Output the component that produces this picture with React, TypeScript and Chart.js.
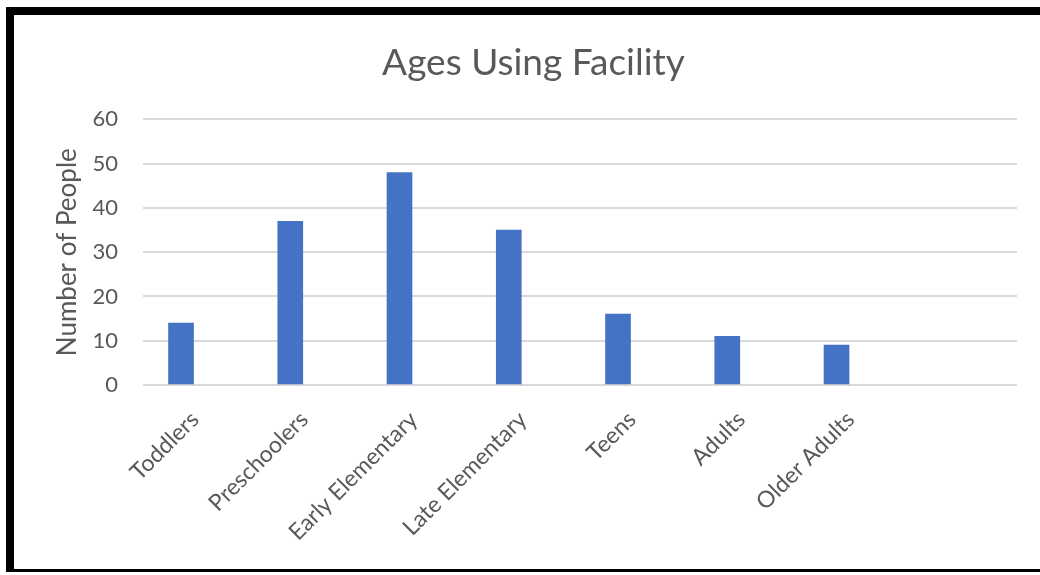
import React, { useEffect, useRef } from 'react';
import { Chart, registerables } from 'chart.js';

Chart.register(...registerables);

const categories = ['Toddlers', 'Preschoolers', 'Early Elementary', 'Late Elementary', 'Teens', 'Adults', 'Older Adults'];
const people = [14, 37, 48, 35, 16, 11, 9];
const yTickValues = [0, 10, 20, 30, 40, 50, 60];
const titleText = 'Ages Using Facility';
const yTitleText = 'Number of People';

const FONT = 'Lato, "Open Sans", "Noto Sans", sans-serif';
const TEXT = '#595959';

export default function App() {
  const ref = useRef<HTMLCanvasElement | null>(null);

  useEffect(() => {
    if (!ref.current) return;
    const chart = new Chart(ref.current, {
      type: 'bar',
      data: {
        datasets: [
          {
            label: yTitleText,
            data: people.map((v, i) => ({ x: i, y: v })),
            backgroundColor: '#4472C4',
            borderColor: '#4472C4',
            borderWidth: 0,
            barThickness: 25,
          },
        ],
      },
      options: {
        responsive: false,
        animation: false,
        layout: { padding: { left: 50, right: 23, top: 0, bottom: 0 } },
        plugins: {
          legend: { display: false },
          tooltip: { enabled: false },
          title: {
            display: true,
            text: titleText,
            color: TEXT,
            font: { family: FONT, size: 37, weight: 'normal' },
            padding: { top: 41, bottom: 34 },
          },
        },
        scales: {
          x: {
            type: 'linear',
            offset: false,
            min: -0.348,
            max: 7.652,
            grid: { display: false, drawTicks: false, offset: false },
            border: { display: false },
            afterBuildTicks: (s: any) => {
              s.ticks = categories.map((_, i) => ({ value: i }));
            },
            afterFit: (s: any) => {
              s.height = 190;
            },
            ticks: {
              autoSkip: false,
              minRotation: 45,
              maxRotation: 45,
              padding: 21,
              labelOffset: 14,
              color: TEXT,
              font: { family: FONT, size: 23 },
              callback: (v: any) => categories[v as number] ?? '',
            },
          },
          y: {
            min: 0,
            max: 60,
            afterBuildTicks: (s: any) => {
              s.ticks = yTickValues.map((v) => ({ value: v }));
            },
            afterFit: (s: any) => {
              s.width = 93;
            },
            grid: { color: '#d9d9d9', lineWidth: 2, drawTicks: false },
            border: { display: false },
            ticks: {
              padding: 25,
              color: TEXT,
              font: { family: FONT, size: 22 },
            },
            title: {
              display: true,
              text: yTitleText,
              color: TEXT,
              font: { family: FONT, size: 26 },
              padding: { top: 2, bottom: 0 },
            },
          },
        },
      },
    });
    return () => chart.destroy();
  }, []);

  return (
    <div style={{ position: 'absolute', left: 0, top: 0, width: 1040, height: 575, overflow: 'hidden', background: '#fff' }}>
      <canvas ref={ref} width={1040} height={575} style={{ position: 'absolute', left: 0, top: 0, width: 1040, height: 575 }} />
      <div
        style={{
          position: 'absolute',
          left: 6,
          top: 7,
          width: 1100,
          height: 565,
          borderLeft: '8px solid #000',
          borderTop: '8px solid #000',
          borderBottom: '3px solid #000',
          boxSizing: 'border-box',
          pointerEvents: 'none',
        }}
      />
    </div>
  );
}
